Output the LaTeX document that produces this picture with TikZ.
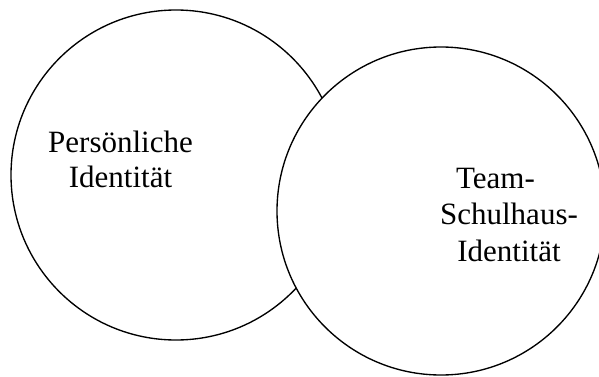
\documentclass[tikz,border=0pt]{standalone}
\usepackage{fontspec}
\setmainfont{Liberation Serif}
\begin{document}
\begin{tikzpicture}[x=1pt,y=1pt,
  ring/.style={circle, draw=black, line width=1.35pt, fill=white, inner sep=0pt, minimum size=#1},
  txt/.style={align=center, inner sep=0pt, anchor=north, text=black}]
\useasboundingbox (0,0) rectangle (599,376);
\clip (0,0) rectangle (599,376);
\fill[white] (0,0) rectangle (599,376);
\node[ring=330pt] (pers) at (176,201) {};
\node[ring=328pt] (team) at (441,165) {};
\node[txt, font=\fontsize{31}{34.5}\selectfont] (ptext) at (120.5,245.2) {Persönliche\\Identität};
\node[txt, font=\fontsize{31}{36.7}\selectfont] (ttext) at (509,208.5) {Team-\hspace*{27pt}\\Schulhaus-\\Identität};
\end{tikzpicture}
\end{document}
